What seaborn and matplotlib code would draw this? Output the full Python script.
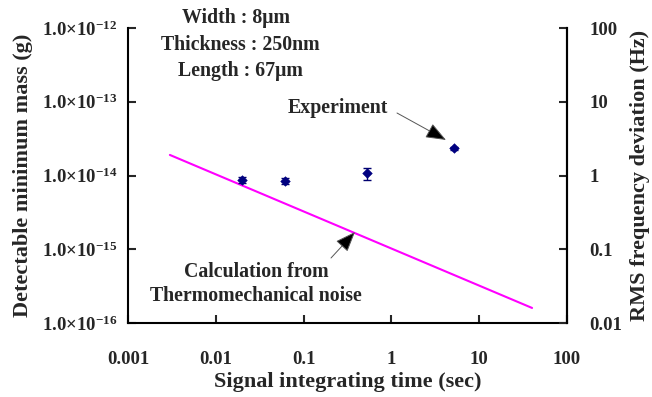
import numpy as np
import pandas as pd
import matplotlib
matplotlib.use("Agg")
import matplotlib.pyplot as plt
import seaborn as sns
from matplotlib.ticker import FixedLocator, FixedFormatter, NullLocator

# Data
exp_time = [0.02, 0.062, 0.53, 5.2]
exp_mass = [8.8e-15, 8.5e-15, 1.08e-14, 2.35e-14]
exp_err = [0.08e-14, 0.08e-14, 0.2e-14, 0.12e-14]
calc_time = [0.003, 40]
calc_mass = [1.9e-14, 1.6e-16]
x_ticks = [0.001, 0.01, 0.1, 1, 10, 100]
x_labels = ["0.001", "0.01", "0.1", "1", "10", "100"]
y_ticks = [1e-16, 1e-15, 1e-14, 1e-13, 1e-12]
y_labels = [r"$1.0{\times}10^{-16}$", r"$1.0{\times}10^{-15}$", r"$1.0{\times}10^{-14}$",
            r"$1.0{\times}10^{-13}$", r"$1.0{\times}10^{-12}$"]
y2_ticks = [0.01, 0.1, 1, 10, 100]
y2_labels = ["0.01", "0.1", "1", "10", "100"]

sns.set_style("white")
plt.rcParams["font.family"] = ["Liberation Serif", "DejaVu Serif"]
plt.rcParams["font.weight"] = "bold"
plt.rcParams["mathtext.fontset"] = "custom"
plt.rcParams["mathtext.rm"] = "Liberation Serif:bold"
plt.rcParams["mathtext.it"] = "Liberation Serif:bold"
plt.rcParams["mathtext.bf"] = "Liberation Serif:bold"

fig = plt.figure(figsize=(6.52, 3.97), dpi=100)
ax = fig.add_axes([128/652, 1-323/397, (567-128)/652, (323-28)/397])

calc_df = pd.DataFrame({"t": calc_time, "m": calc_mass})
exp_df = pd.DataFrame({"t": exp_time, "m": exp_mass})

sns.lineplot(data=calc_df, x="t", y="m", ax=ax, color="#ff00ff", lw=1.5)
ax.errorbar(exp_time, exp_mass, yerr=exp_err, fmt="none", ecolor="#000070", elinewidth=1.0, capsize=3, capthick=1.0)
sns.scatterplot(data=exp_df, x="t", y="m", ax=ax, marker="D", s=24, color="#000080", edgecolor="#000080", zorder=5)

ax.set_xscale("log")
ax.set_yscale("log")
ax.set_xlim(0.001, 100)
ax.set_ylim(1e-16, 1e-12)

ax.xaxis.set_major_locator(FixedLocator(x_ticks))
ax.xaxis.set_major_formatter(FixedFormatter(x_labels))
ax.xaxis.set_minor_locator(NullLocator())
ax.yaxis.set_major_locator(FixedLocator(y_ticks))
ax.yaxis.set_major_formatter(FixedFormatter(y_labels))
ax.yaxis.set_minor_locator(NullLocator())

for s in ["left", "bottom", "right"]:
    ax.spines[s].set_visible(True)
    ax.spines[s].set_color("black")
    ax.spines[s].set_linewidth(1.5)
ax.spines["top"].set_visible(False)

ax.tick_params(axis="x", direction="in", length=6, width=1.5, pad=20, labelsize=13.5, bottom=True)
ax.tick_params(axis="y", direction="in", length=6, width=1.5, pad=8, labelsize=13.5, left=True)

ax2 = ax.twinx()
ax2.set_yscale("log")
ax2.set_ylim(0.01, 100)
ax2.yaxis.set_major_locator(FixedLocator(y2_ticks))
ax2.yaxis.set_major_formatter(FixedFormatter(y2_labels))
ax2.yaxis.set_minor_locator(NullLocator())
for s in ["left", "bottom", "top"]:
    ax2.spines[s].set_visible(False)
ax2.spines["right"].set_linewidth(1.5)
ax2.spines["right"].set_color("black")
ax2.tick_params(axis="y", direction="in", length=6, width=1.5, pad=16, labelsize=13.5, right=True)
ax2.grid(False)
ax.grid(False)

ax.set_xlabel("Signal integrating time (sec)", fontsize=16, fontweight="bold", labelpad=3)
ax.set_ylabel("Detectable minimum mass (g)", fontsize=16, fontweight="bold", labelpad=6)
ax2.set_ylabel("RMS frequency deviation (Hz)", fontsize=16, fontweight="bold", labelpad=6)

fig.text(236/652, 1-18/397, "Width : 8μm", ha="center", va="center", fontsize=14.3, fontweight="bold")
fig.text(240/652, 1-45/397, "Thickness : 250nm", ha="center", va="center", fontsize=14.3, fontweight="bold")
fig.text(240/652, 1-71/397, "Length : 67μm", ha="center", va="center", fontsize=14.3, fontweight="bold")

fig.text(338/652, 1-108/397, "Experiment", ha="center", va="center", fontsize=14.3, fontweight="bold")
ax.annotate("", xy=(446/652, 1-140/397), xycoords="figure fraction",
            xytext=(397/652, 1-113/397), textcoords="figure fraction",
            arrowprops=dict(arrowstyle="-|>,head_length=0.9,head_width=0.35", lw=0.7, mutation_scale=14,
                            shrinkA=0, shrinkB=0, facecolor="black", edgecolor="#555555"))
ax.annotate("", xy=(355/652, 1-232/397), xycoords="figure fraction",
            xytext=(331/652, 1-258/397), textcoords="figure fraction",
            arrowprops=dict(arrowstyle="-|>,head_length=0.9,head_width=0.35", lw=0.7, mutation_scale=14,
                            shrinkA=0, shrinkB=0, facecolor="black", edgecolor="#555555"))
fig.text(256/652, 1-272/397, "Calculation from", ha="center", va="center", fontsize=14.3, fontweight="bold")
fig.text(256/652, 1-296/397, "Thermomechanical noise", ha="center", va="center", fontsize=14.3, fontweight="bold")

fig.savefig("out.png", dpi=100)
